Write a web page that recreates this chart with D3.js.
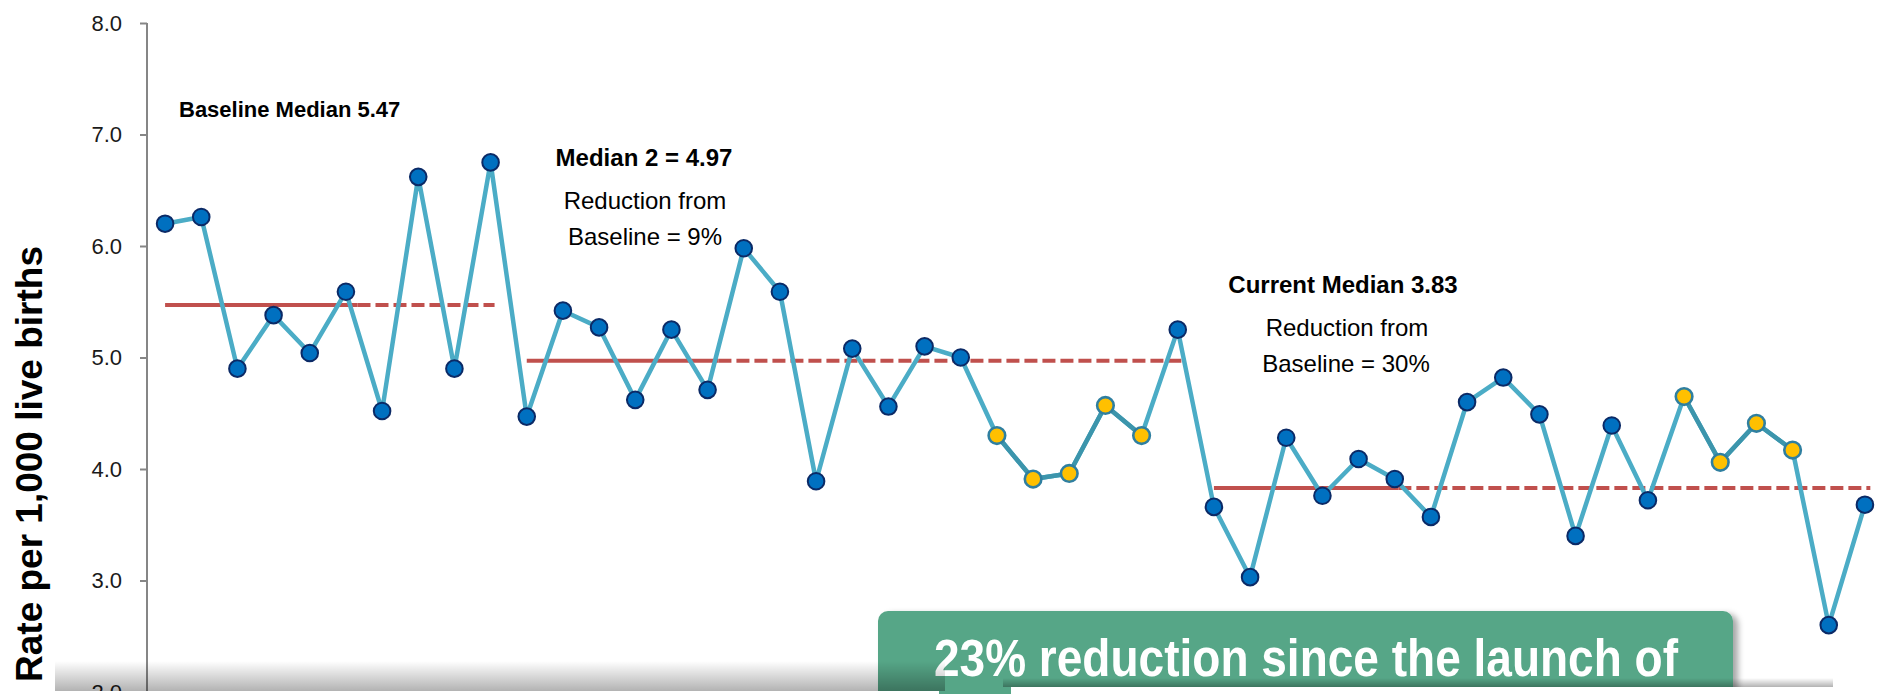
<!DOCTYPE html>
<html>
<head>
<meta charset="utf-8">
<script src="https://cdn.jsdelivr.net/npm/d3@7"></script>
<style>
  body { margin: 0; background: #fff; }
  svg { display: block; font-family: "Liberation Sans", Arial, sans-serif; }
</style>
</head>
<body>
<div id="chart"></div>
<script>
// Rate per 1,000 live births, one value per period
var periods = d3.range(1, 49);
var rates = [6.20, 6.26, 4.90, 5.38, 5.04, 5.59, 4.52, 6.62, 4.90, 6.75,
             4.47, 5.42, 5.27, 4.62, 5.25, 4.71, 5.98, 5.59, 3.89, 5.08,
             4.56, 5.10, 5.00, 4.30, 3.91, 3.96, 4.57, 4.30, 5.25, 3.66,
             3.03, 4.28, 3.76, 4.09, 3.91, 3.57, 4.60, 4.82, 4.49, 3.40,
             4.39, 3.72, 4.65, 4.06, 4.41, 4.17, 2.60, 3.68];
// periods flagged as a signal (yellow markers)
var signalPeriods = [24, 25, 26, 27, 28, 43, 44, 45, 46];

// median lines: value, solid span, dashed extension (in periods)
var medianValues = [5.47, 4.97, 3.83];
var medianSolid = [[1, 6.32], [11, 16.3], [30, 35.1]];
var medianDashed = [[6.32, 10.11], [16.3, 29.1], [35.1, 48.15]];

var yTicks = [2, 3, 4, 5, 6, 7, 8];
var yLabel = "Rate per 1,000 live births";
var callout = "23% reduction since the launch of";

var svgWidth = 1879;
var svgHeight = 694;

var svg = d3.select("#chart")
  .append("svg")
  .attr("width", svgWidth)
  .attr("height", svgHeight);

var defs = svg.append("defs");
var shadow = defs.append("filter").attr("id", "boxShadow")
  .attr("x", "-5%").attr("y", "-20%").attr("width", "112%").attr("height", "150%");
shadow.append("feDropShadow")
  .attr("dx", 5).attr("dy", 3).attr("stdDeviation", 3)
  .attr("flood-color", "#000").attr("flood-opacity", 0.35);

var fade = defs.append("linearGradient").attr("id", "panelFade")
  .attr("x1", 0).attr("y1", 0).attr("x2", 0).attr("y2", 1);
fade.append("stop").attr("offset", "0%").attr("stop-color", "#000").attr("stop-opacity", 0);
fade.append("stop").attr("offset", "100%").attr("stop-color", "#000").attr("stop-opacity", 0.3);

// scales
var xScale = d3.scaleLinear()
  .domain([0.5, 48.5])
  .range([147, 1883]);

var yScale = d3.scaleLinear()
  .domain([2, 8])
  .range([692, 23]);

// y axis
var leftAxis = d3.axisLeft(yScale)
  .tickValues(yTicks)
  .tickFormat(d3.format(".1f"))
  .tickSize(7)
  .tickPadding(18);

var yAxis = svg.append("g")
  .attr("transform", "translate(" + xScale.range()[0] + ",0)")
  .call(leftAxis);
yAxis.select(".domain").remove();
yAxis.append("line")
  .attr("x1", 0).attr("x2", 0)
  .attr("y1", yScale(8)).attr("y2", svgHeight)
  .attr("stroke", "#868686").attr("stroke-width", 2);
yAxis.selectAll(".tick line").attr("stroke", "#868686").attr("stroke-width", 2);
yAxis.selectAll(".tick text")
  .attr("font-family", "Liberation Sans, Arial, sans-serif")
  .attr("font-size", 22)
  .attr("fill", "#1a1a1a");

// y axis label
svg.append("text")
  .attr("transform", "translate(42," + 246 + ") rotate(-90)")
  .attr("text-anchor", "end")
  .attr("font-size", 37)
  .attr("font-weight", "bold")
  .attr("fill", "#000")
  .text(yLabel);

// median lines
var medianGroup = svg.append("g");
medianValues.forEach(function(m, i) {
  medianGroup.append("line")
    .attr("x1", xScale(medianSolid[i][0])).attr("x2", xScale(medianSolid[i][1]))
    .attr("y1", yScale(m)).attr("y2", yScale(m))
    .attr("stroke", "#C0504D").attr("stroke-width", 4);
  medianGroup.append("line")
    .attr("x1", xScale(medianDashed[i][0])).attr("x2", xScale(medianDashed[i][1]))
    .attr("y1", yScale(m)).attr("y2", yScale(m))
    .attr("stroke", "#C0504D").attr("stroke-width", 4)
    .attr("stroke-dasharray", "13,5");
});

// data line
var points = periods.map(function(p, i) {
  return { period: p, rate: rates[i], signal: signalPeriods.indexOf(p) >= 0 };
});

var line = d3.line()
  .x(function(d) { return xScale(d.period); })
  .y(function(d) { return yScale(d.rate); });

svg.append("path")
  .datum(points)
  .attr("fill", "none")
  .attr("stroke", "#4BACC6")
  .attr("stroke-width", 4.5)
  .attr("stroke-linejoin", "round")
  .attr("d", line);

// darker segments between signal points
var signalLine = d3.line()
  .defined(function(d) { return d.signal; })
  .x(function(d) { return xScale(d.period); })
  .y(function(d) { return yScale(d.rate); });

svg.append("path")
  .datum(points)
  .attr("fill", "none")
  .attr("stroke", "#3C95AC")
  .attr("stroke-width", 4.5)
  .attr("d", signalLine);

// markers
svg.append("g").selectAll("circle")
  .data(points)
  .enter()
  .append("circle")
  .attr("cx", function(d) { return xScale(d.period); })
  .attr("cy", function(d) { return yScale(d.rate); })
  .attr("r", 8.3)
  .attr("fill", function(d) { return d.signal ? "#FFC000" : "#0070C0"; })
  .attr("stroke", function(d) { return d.signal ? "#2F7FA0" : "#0B2A66"; })
  .attr("stroke-width", function(d) { return d.signal ? 2.6 : 2; });

// annotations
var notes = svg.append("g").attr("fill", "#000");
notes.append("text")
  .attr("x", 179).attr("y", 117)
  .attr("font-size", 22).attr("font-weight", "bold")
  .text("Baseline Median " + medianValues[0].toFixed(2));

var note2 = notes.append("g").attr("text-anchor", "middle");
note2.append("text").attr("x", 644).attr("y", 166)
  .attr("font-size", 24).attr("font-weight", "bold")
  .text("Median 2 = " + medianValues[1].toFixed(2));
note2.append("text").attr("x", 645).attr("y", 209)
  .attr("font-size", 24).text("Reduction from");
note2.append("text").attr("x", 645).attr("y", 245)
  .attr("font-size", 24).text("Baseline = 9%");

var note3 = notes.append("g").attr("text-anchor", "middle");
note3.append("text").attr("x", 1343).attr("y", 293)
  .attr("font-size", 24).attr("font-weight", "bold")
  .text("Current Median " + medianValues[2].toFixed(2));
note3.append("text").attr("x", 1347).attr("y", 336)
  .attr("font-size", 24).text("Reduction from");
note3.append("text").attr("x", 1346).attr("y", 372)
  .attr("font-size", 24).text("Baseline = 30%");

// green callout box (cut off at the bottom of the slide)
svg.append("rect")
  .attr("x", 878).attr("y", 611)
  .attr("width", 855).attr("height", 120)
  .attr("rx", 10)
  .attr("fill", "#57A687")
  .attr("filter", "url(#boxShadow)");

svg.append("text")
  .attr("x", 934).attr("y", 676)
  .attr("font-size", 51).attr("font-weight", "bold")
  .attr("fill", "#fff")
  .attr("textLength", 744)
  .attr("lengthAdjust", "spacingAndGlyphs")
  .text(callout);

// panels peeking in at the bottom edge
svg.append("rect")
  .attr("x", 55).attr("y", 661).attr("width", 890).attr("height", 30)
  .attr("fill", "url(#panelFade)");
svg.append("rect")
  .attr("x", 83).attr("y", 691).attr("width", 856).attr("height", 10)
  .attr("fill", "#fff");

svg.append("rect")
  .attr("x", 1003).attr("y", 678).attr("width", 830).attr("height", 9)
  .attr("fill", "url(#panelFade)");
svg.append("rect")
  .attr("x", 1011).attr("y", 687).attr("width", 814).attr("height", 12)
  .attr("fill", "#fff");
</script>
</body>
</html>
